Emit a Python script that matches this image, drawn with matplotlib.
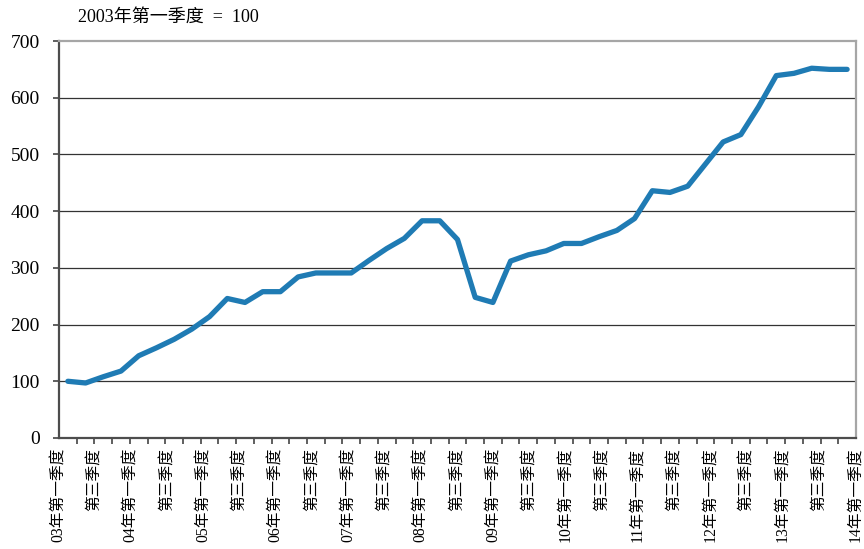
import numpy as np
import matplotlib
matplotlib.use("Agg")
import matplotlib.pyplot as plt

plt.rcParams['font.family'] = ['Liberation Serif', 'Noto Sans CJK SC']

# quarterly index, 2003 Q1 = 100
years = ["03", "04", "05", "06", "07", "08", "09", "10", "11", "12", "13", "14"]
index_values = [
    100, 97, 108, 118, 145, 159, 174, 192, 214, 246, 239, 258,
    258, 284, 291, 291, 291, 313, 334, 352, 383, 383, 350, 248,
    239, 312, 323, 330, 343, 343, 355, 366, 387, 436, 433, 444,
    483, 522, 535, 584, 639, 643, 652, 650, 650,
]

quarter_labels = []
for y in years:
    quarter_labels.append(y + "年第一季度")
    quarter_labels.append("第三季度")
quarter_labels = quarter_labels[:-1]

fig = plt.figure(figsize=(8.64, 5.49), dpi=100)
ax = fig.add_axes([0.0683, 0.2022, 0.9224, 0.7231])

x = np.arange(len(index_values))
ax.plot(x, index_values, color='#1f7bb4', linewidth=3.8, solid_joinstyle='round',
        solid_capstyle='round', zorder=3)

ax.set_xlim(-0.5, len(index_values) - 0.5)
ax.set_ylim(0, 700)
ax.set_yticks(range(0, 701, 100))
for v in range(100, 700, 100):
    ax.axhline(v, color='#333333', linewidth=0.9, zorder=1)

# category boundaries get tick marks, labels spread evenly along the axis
ax.set_xticks(np.arange(-0.5, len(index_values), 1.0), minor=True)
ax.set_xticks(np.linspace(-0.5, len(index_values) - 0.5, len(quarter_labels)))
ax.set_xticklabels(quarter_labels, rotation=90, fontsize=11.3, va='top', ha='center')
ax.tick_params(axis='x', which='major', length=0, pad=7)
ax.tick_params(axis='x', which='minor', length=4, width=1.2, color='#444444')
ax.tick_params(axis='y', length=4, width=1.2, color='#444444', labelsize=14, pad=10)

for side in ('left', 'bottom'):
    ax.spines[side].set_color('#4d4d4d')
    ax.spines[side].set_linewidth(1.6)
for side in ('top', 'right'):
    ax.spines[side].set_color('#a6a6a6')
    ax.spines[side].set_linewidth(1.6)

fig.text(0.090, 0.969, "2003年第一季度  =  100", fontsize=13, va='center', ha='left')

fig.savefig("out.png", dpi=100)
